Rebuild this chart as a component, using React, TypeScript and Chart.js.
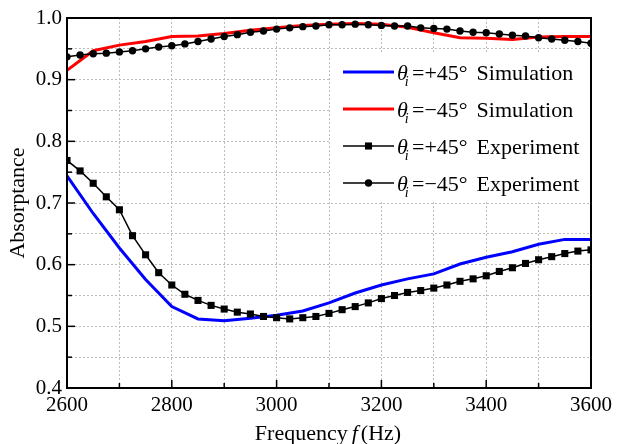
import React, { useEffect, useRef } from "react";
import { Chart, registerables } from "chart.js";

Chart.register(...registerables);

// ---- data ----
const simFreq = [
  2600, 2650, 2700, 2750, 2800, 2850, 2900, 2950, 3000, 3050, 3100,
  3150, 3200, 3250, 3300, 3350, 3400, 3450, 3500, 3550, 3600,
];
const simPlus45 = [
  0.744, 0.683, 0.627, 0.576, 0.532, 0.512, 0.509, 0.513, 0.518, 0.525, 0.538,
  0.554, 0.567, 0.577, 0.585, 0.601, 0.612, 0.621, 0.633, 0.641, 0.641,
];
const simMinus45 = [
  0.915, 0.947, 0.956, 0.962, 0.970, 0.971, 0.975, 0.980, 0.984, 0.988, 0.990,
  0.991, 0.990, 0.985, 0.976, 0.968, 0.967, 0.965, 0.969, 0.970, 0.970,
];
const expFreq = [
  2600, 2625, 2650, 2675, 2700, 2725, 2750, 2775, 2800, 2825, 2850, 2875, 2900, 2925,
  2950, 2975, 3000, 3025, 3050, 3075, 3100, 3125, 3150, 3175, 3200, 3225, 3250, 3275,
  3300, 3325, 3350, 3375, 3400, 3425, 3450, 3475, 3500, 3525, 3550, 3575, 3600,
];
const expPlus45 = [
  0.769, 0.752, 0.732, 0.710, 0.689, 0.647, 0.616, 0.587, 0.567, 0.552, 0.542, 0.534, 0.528, 0.523,
  0.520, 0.516, 0.514, 0.512, 0.514, 0.516, 0.521, 0.527, 0.532, 0.538, 0.545, 0.550, 0.555, 0.558,
  0.562, 0.567, 0.573, 0.577, 0.582, 0.589, 0.595, 0.602, 0.608, 0.613, 0.618, 0.622, 0.624,
];
const expMinus45 = [
  0.937, 0.940, 0.942, 0.943, 0.945, 0.947, 0.950, 0.953, 0.955, 0.958, 0.962, 0.966, 0.970, 0.973,
  0.977, 0.979, 0.982, 0.984, 0.986, 0.987, 0.989, 0.989, 0.990, 0.989, 0.988, 0.987, 0.987, 0.984,
  0.983, 0.982, 0.979, 0.977, 0.976, 0.974, 0.972, 0.971, 0.968, 0.966, 0.964, 0.962, 0.959,
];
const legendSigns = ["+45°", "\u221245°", "+45°", "\u221245°"];
const legendKinds = ["Simulation", "Simulation", "Experiment", "Experiment"];
const xTitleParts = ["Frequency", "f", "(Hz)"];

const SERIF = "'Liberation Serif', 'Times New Roman', serif";

const pairs = (xs: number[], ys: number[]) => xs.map((x, i) => ({ x, y: ys[i] }));

const decorPlugin = {
  id: "decor",
  afterDatasetsDraw(chart: any) {
    const { ctx, chartArea: a, scales } = chart;
    const xs = scales.x;
    const ys = scales.y;
    ctx.save();
    // inward ticks
    ctx.strokeStyle = "#000";
    ctx.lineWidth = 1.5;
    for (let f = 2700; f < 3600; f += 100) {
      const px = xs.getPixelForValue(f);
      const len = f % 200 === 0 ? 8 : 5;
      ctx.beginPath();
      ctx.moveTo(px, a.bottom);
      ctx.lineTo(px, a.bottom - len);
      ctx.stroke();
    }
    for (let k = 9; k < 20; k++) {
      const v = k * 0.05;
      const py = ys.getPixelForValue(v);
      const len = k % 2 === 0 ? 8 : 5;
      ctx.beginPath();
      ctx.moveTo(a.left, py);
      ctx.lineTo(a.left + len, py);
      ctx.stroke();
    }
    // frame
    ctx.lineWidth = 2;
    ctx.strokeRect(a.left, a.top, a.right - a.left, a.bottom - a.top);

    // legend
    ctx.fillStyle = "#fff";
    ctx.fillRect(a.left + 264, a.top + 34, a.right - a.left - 266, 148);
    [0, 1, 2, 3].forEach((di, row) => {
      const ds = chart.data.datasets[di];
      const y = a.top + 54 + row * 37;
      const x0 = a.left + 276;
      const x1 = x0 + 51;
      ctx.strokeStyle = ds.borderColor;
      ctx.lineWidth = ds.borderWidth;
      ctx.beginPath();
      ctx.moveTo(x0, y);
      ctx.lineTo(x1, y);
      ctx.stroke();
      if (ds.pointRadius > 0) {
        ctx.fillStyle = ds.pointBackgroundColor;
        if (ds.pointStyle === "rect") {
          const s = ds.pointRadius * Math.SQRT1_2;
          ctx.fillRect((x0 + x1) / 2 - s, y - s, 2 * s, 2 * s);
        } else {
          ctx.beginPath();
          ctx.arc((x0 + x1) / 2, y, ds.pointRadius, 0, Math.PI * 2);
          ctx.fill();
        }
      }
      ctx.fillStyle = "#000";
      ctx.textBaseline = "alphabetic";
      ctx.textAlign = "left";
      const base = y + 8;
      const tx = x1 + 3;
      ctx.font = `italic 22px ${SERIF}`;
      ctx.fillText("\u03b8", tx, base);
      const thW = ctx.measureText("\u03b8").width;
      ctx.font = `italic 14px ${SERIF}`;
      ctx.fillText("i", tx + thW - 3, base + 6);
      ctx.font = `22px ${SERIF}`;
      const eqX = tx + 15;
      ctx.fillText("=", eqX, base);
      const sX = eqX + ctx.measureText("=").width;
      ctx.fillText(legendSigns[row], sX, base);
      const kX = sX + ctx.measureText(legendSigns[row]).width + 9;
      ctx.fillText(legendKinds[row], kX, base);
    });
    ctx.restore();
  },
  afterDraw(chart: any) {
    const { ctx, chartArea: a } = chart;
    ctx.save();
    ctx.fillStyle = "#000";
    ctx.textBaseline = "alphabetic";
    ctx.textAlign = "left";
    ctx.font = `22px ${SERIF}`;
    const w1 = ctx.measureText(xTitleParts[0]).width;
    const w3 = ctx.measureText(xTitleParts[2]).width;
    ctx.font = `italic 22px ${SERIF}`;
    const w2 = ctx.measureText(xTitleParts[1]).width;
    const gap1 = 4;
    const gap2 = 3;
    const total = w1 + gap1 + w2 + gap2 + w3;
    const cx = (a.left + a.right) / 2 - 1;
    let x = cx - total / 2;
    const base = 440;
    ctx.font = `22px ${SERIF}`;
    ctx.fillText(xTitleParts[0], x, base);
    x += w1 + gap1;
    ctx.font = `italic 22px ${SERIF}`;
    ctx.fillText(xTitleParts[1], x, base);
    x += w2 + gap2;
    ctx.font = `22px ${SERIF}`;
    ctx.fillText(xTitleParts[2], x, base);
    ctx.restore();
  },
};

export default function App() {
  const ref = useRef<HTMLCanvasElement | null>(null);
  useEffect(() => {
    if (!ref.current) return;
    Chart.defaults.font.family = SERIF;
    const chart = new Chart(ref.current, {
      type: "line",
      data: {
        datasets: [
          {
            label: "θi=+45° Simulation",
            data: pairs(simFreq, simPlus45),
            borderColor: "#0000ff",
            backgroundColor: "#0000ff",
            borderWidth: 3,
            pointRadius: 0,
            order: 2,
          },
          {
            label: "θi=−45° Simulation",
            data: pairs(simFreq, simMinus45),
            borderColor: "#ff0000",
            backgroundColor: "#ff0000",
            borderWidth: 3,
            pointRadius: 0,
            order: 2,
          },
          {
            label: "θi=+45° Experiment",
            data: pairs(expFreq, expPlus45),
            borderColor: "#000",
            backgroundColor: "#000",
            pointBackgroundColor: "#000",
            pointBorderColor: "#000",
            borderWidth: 1.5,
            pointStyle: "rect",
            pointRadius: 5,
            pointBorderWidth: 0,
            order: 1,
          },
          {
            label: "θi=−45° Experiment",
            data: pairs(expFreq, expMinus45),
            borderColor: "#000",
            backgroundColor: "#000",
            pointBackgroundColor: "#000",
            pointBorderColor: "#000",
            borderWidth: 1.5,
            pointStyle: "circle",
            pointRadius: 3.7,
            pointBorderWidth: 0,
            order: 1,
          },
        ] as any,
      },
      options: {
        responsive: false,
        animation: false,
        layout: { padding: { top: 18, right: 24, left: 0, bottom: 0 } },
        plugins: { legend: { display: false }, tooltip: { enabled: false } },
        scales: {
          x: {
            type: "linear",
            min: 2600,
            max: 3600,
            afterFit: (s: any) => {
              s.height = 56;
            },
            ticks: {
              stepSize: 100,
              autoSkip: false,
              maxRotation: 0,
              padding: 5,
              color: "#000",
              font: { size: 21, family: SERIF },
              callback: (v: any) => (Number(v) % 200 === 0 ? String(v) : ""),
            },
            grid: { color: "#bdbdbd", lineWidth: 1, drawTicks: false },
            border: { display: false, dash: [2, 2] },
            title: { display: false },
          },
          y: {
            type: "linear",
            min: 0.4,
            max: 1.0,
            afterFit: (s: any) => {
              s.width = 67;
            },
            ticks: {
              stepSize: 0.05,
              autoSkip: false,
              padding: 5,
              color: "#000",
              font: { size: 21, family: SERIF },
              callback: (v: any) => {
                const r = Math.round(Number(v) * 100);
                return r % 10 === 0 ? (r / 100).toFixed(1) : "";
              },
            },
            grid: { color: "#bdbdbd", lineWidth: 1, drawTicks: false },
            border: { display: false, dash: [2, 2] },
            title: {
              display: true,
              text: "Absorptance",
              color: "#000",
              font: { size: 22, family: SERIF, lineHeight: 1 },
              padding: { top: 7, bottom: 0 },
            },
          },
        },
      } as any,
      plugins: [decorPlugin],
    });
    return () => chart.destroy();
  }, []);
  return (
    <div style={{ position: "fixed", left: 0, top: 0, width: 617, height: 444, background: "#fff" }}>
      <canvas ref={ref} width={617} height={444} style={{ display: "block" }} />
    </div>
  );
}
